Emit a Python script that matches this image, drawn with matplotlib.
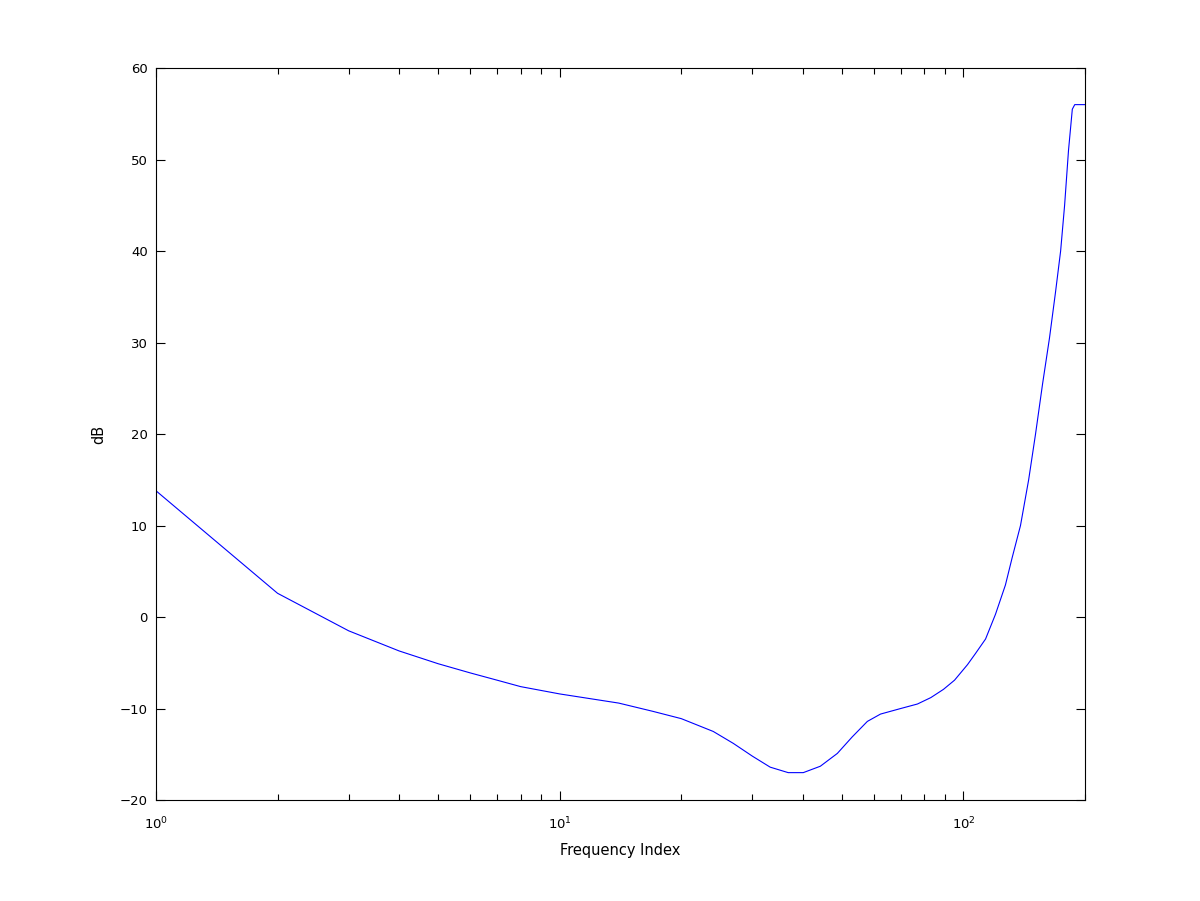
import matplotlib
matplotlib.use("Agg")
import matplotlib.pyplot as plt
from matplotlib.ticker import LogLocator, NullFormatter

# Data (frequency index vs dB)
freq_index = [1, 2, 3, 4, 5, 6, 7, 8, 10, 14, 17, 20, 24, 26.9, 30, 33.2, 36.8,
              40.1, 44.2, 48.7, 53, 57.8, 62.3, 69.8, 76.9, 83, 89.2, 95, 102.3,
              107, 113.4, 120, 127, 132, 138.4, 145, 150.8, 157, 163.3, 169,
              174, 178, 182, 186, 188.6, 200]
db_values = [13.8, 2.6, -1.5, -3.7, -5.1, -6.1, -6.9, -7.6, -8.4, -9.4, -10.3,
             -11.1, -12.5, -13.8, -15.2, -16.4, -17.0, -17.0, -16.3, -14.9,
             -13.1, -11.4, -10.6, -10.0, -9.5, -8.8, -7.9, -6.9, -5.2, -4.0,
             -2.4, 0.3, 3.5, 6.5, 10.0, 15.0, 20.0, 25.5, 30.5, 35.5, 40.0,
             45.0, 51.0, 55.5, 56.0, 56.0]

x_limits = (1, 200)
y_limits = (-20, 60)
y_ticks = [-20, -10, 0, 10, 20, 30, 40, 50, 60]

fig = plt.figure(figsize=(12, 9.01), dpi=100)
ax = fig.add_axes([0.13, 0.112, 0.7742, 0.8125])

ax.plot(freq_index, db_values, color=(0, 0, 1), linewidth=0.8)
ax.set_xscale("log")
ax.set_xlim(*x_limits)
ax.set_ylim(*y_limits)
ax.set_yticks(y_ticks)
ax.xaxis.set_major_locator(LogLocator(base=10, numticks=10))
ax.xaxis.set_minor_locator(LogLocator(base=10, subs=range(2, 10), numticks=20))
ax.xaxis.set_minor_formatter(NullFormatter())

ax.tick_params(which="both", direction="in", top=True, right=True,
               labelsize=9.5, width=0.8)
ax.tick_params(axis="y", pad=6)
ax.tick_params(axis="x", pad=11)
ax.tick_params(which="major", length=6.5)
ax.tick_params(which="minor", length=4)
for s in ax.spines.values():
    s.set_linewidth(0.8)

ax.set_xlabel("Frequency Index", fontsize=10.5, labelpad=8)
ax.set_ylabel("dB", fontsize=10.5, labelpad=10)

fig.savefig("out.png", dpi=100, facecolor="white")
